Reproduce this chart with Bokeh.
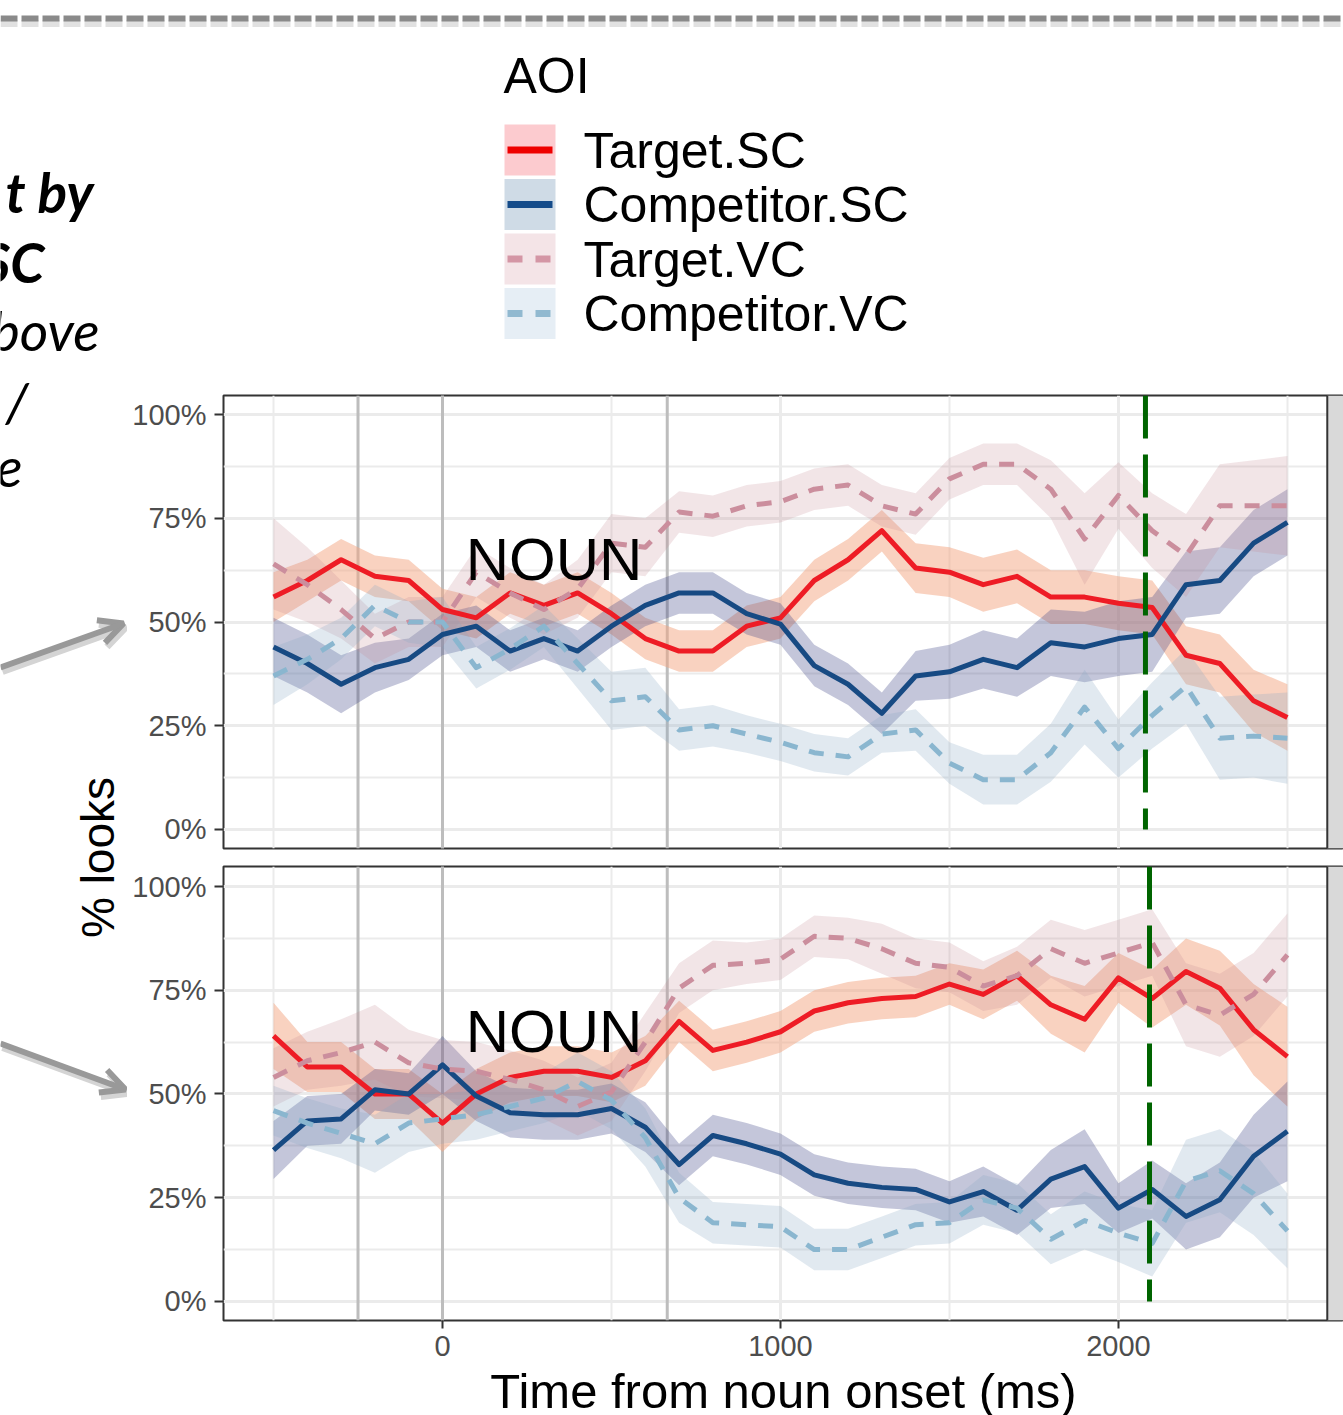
import math
from bokeh.plotting import figure
from bokeh.models import (Range1d, FixedTicker, NumeralTickFormatter, Span, BoxAnnotation,
                          Arrow, OpenHead, Grid, GlobalInlineStyleSheet)
from bokeh.layouts import column, row
from bokeh.embed import file_html
from bokeh.resources import INLINE
from bokeh.core.properties import value

# ---------------- data ----------------
time_ms = [-500, -400, -300, -200, -100, 0, 100, 200, 300, 400, 500, 600, 700, 800, 900, 1000,
           1100, 1200, 1300, 1400, 1500, 1600, 1700, 1800, 1900, 2000, 2100, 2200, 2300, 2400, 2500]

aoi_labels = ["Target.SC", "Competitor.SC", "Target.VC", "Competitor.VC"]

# top panel: mean proportion of looks
top_target_sc = [0.56, 0.60, 0.65, 0.61, 0.60, 0.53, 0.51, 0.57, 0.54, 0.57, 0.52, 0.46, 0.43, 0.43, 0.49, 0.51,
                 0.60, 0.65, 0.72, 0.63, 0.62, 0.59, 0.61, 0.56, 0.56, 0.545, 0.535, 0.42, 0.40, 0.31, 0.27]
top_comp_sc = [0.44, 0.40, 0.35, 0.39, 0.41, 0.47, 0.49, 0.43, 0.46, 0.43, 0.49, 0.54, 0.57, 0.57, 0.52, 0.495,
               0.395, 0.35, 0.28, 0.37, 0.38, 0.41, 0.39, 0.45, 0.44, 0.46, 0.47, 0.59, 0.60, 0.69, 0.74]
top_target_vc = [0.64, 0.59, 0.53, 0.46, 0.50, 0.50, 0.62, 0.57, 0.53, 0.58, 0.69, 0.68, 0.765, 0.755, 0.78, 0.79,
                 0.82, 0.83, 0.78, 0.76, 0.845, 0.88, 0.88, 0.82, 0.70, 0.805, 0.72, 0.66, 0.78, 0.78, 0.78]
top_comp_vc = [0.37, 0.41, 0.46, 0.54, 0.50, 0.50, 0.39, 0.435, 0.49, 0.40, 0.31, 0.32, 0.24, 0.25, 0.23, 0.21,
               0.185, 0.175, 0.23, 0.24, 0.16, 0.12, 0.12, 0.185, 0.295, 0.195, 0.275, 0.345, 0.22, 0.225, 0.22]

# top panel: ribbon half-widths
top_target_sc_ci = [0.06, 0.05, 0.05, 0.05, 0.05, 0.05, 0.05, 0.05, 0.05, 0.05, 0.05, 0.05, 0.05, 0.05, 0.05, 0.05,
                    0.05, 0.05, 0.05, 0.06, 0.06, 0.065, 0.065, 0.065, 0.065, 0.065, 0.065, 0.07, 0.07, 0.075, 0.08]
top_comp_sc_ci = [0.07, 0.07, 0.07, 0.06, 0.05, 0.05, 0.05, 0.05, 0.05, 0.05, 0.05, 0.05, 0.05, 0.05, 0.05, 0.05,
                  0.05, 0.05, 0.05, 0.06, 0.065, 0.07, 0.07, 0.08, 0.085, 0.09, 0.09, 0.08, 0.08, 0.08, 0.08]
top_target_vc_ci = [0.11, 0.09, 0.07, 0.06, 0.06, 0.06, 0.06, 0.06, 0.06, 0.07, 0.07, 0.07, 0.05, 0.05, 0.05, 0.05,
                    0.05, 0.05, 0.05, 0.05, 0.05, 0.05, 0.05, 0.07, 0.11, 0.08, 0.09, 0.10, 0.10, 0.11, 0.12]
top_comp_vc_ci = [0.07, 0.06, 0.05, 0.05, 0.05, 0.06, 0.05, 0.05, 0.05, 0.06, 0.07, 0.07, 0.05, 0.05, 0.045, 0.045,
                  0.045, 0.045, 0.045, 0.05, 0.05, 0.06, 0.06, 0.07, 0.09, 0.07, 0.08, 0.09, 0.10, 0.10, 0.11]

# bottom panel: mean proportion of looks
bot_target_sc = [0.64, 0.565, 0.565, 0.50, 0.50, 0.43, 0.50, 0.54, 0.555, 0.555, 0.54, 0.58, 0.675, 0.605, 0.625, 0.65,
                 0.70, 0.72, 0.73, 0.735, 0.765, 0.74, 0.785, 0.715, 0.68, 0.78, 0.73, 0.795, 0.755, 0.655, 0.59]
bot_comp_sc = [0.365, 0.435, 0.44, 0.51, 0.50, 0.57, 0.495, 0.455, 0.45, 0.45, 0.465, 0.42, 0.33, 0.40, 0.38, 0.355,
               0.305, 0.285, 0.275, 0.27, 0.24, 0.265, 0.22, 0.295, 0.325, 0.225, 0.27, 0.205, 0.245, 0.35, 0.41]
bot_target_vc = [0.54, 0.58, 0.60, 0.625, 0.575, 0.56, 0.555, 0.535, 0.51, 0.47, 0.505, 0.625, 0.755, 0.81, 0.815, 0.825,
                 0.88, 0.875, 0.85, 0.815, 0.805, 0.76, 0.785, 0.85, 0.815, 0.84, 0.865, 0.715, 0.69, 0.74, 0.835]
bot_comp_vc = [0.46, 0.43, 0.405, 0.38, 0.43, 0.44, 0.45, 0.47, 0.49, 0.53, 0.485, 0.395, 0.25, 0.19, 0.185, 0.18,
               0.125, 0.125, 0.155, 0.185, 0.19, 0.245, 0.225, 0.15, 0.195, 0.165, 0.14, 0.29, 0.315, 0.26, 0.17]

# bottom panel: ribbon half-widths
bot_target_sc_ci = [0.08, 0.06, 0.06, 0.06, 0.06, 0.07, 0.06, 0.06, 0.06, 0.06, 0.06, 0.06, 0.05, 0.05, 0.05, 0.05,
                    0.05, 0.05, 0.05, 0.05, 0.05, 0.06, 0.06, 0.07, 0.08, 0.06, 0.07, 0.08, 0.09, 0.11, 0.12]
bot_comp_sc_ci = [0.07, 0.06, 0.06, 0.05, 0.05, 0.07, 0.06, 0.06, 0.06, 0.06, 0.06, 0.06, 0.05, 0.05, 0.05, 0.05,
                  0.05, 0.05, 0.05, 0.05, 0.05, 0.06, 0.06, 0.07, 0.09, 0.06, 0.07, 0.08, 0.09, 0.10, 0.12]
bot_target_vc_ci = [0.07, 0.07, 0.08, 0.09, 0.08, 0.07, 0.07, 0.07, 0.07, 0.07, 0.07, 0.07, 0.06, 0.06, 0.05, 0.05,
                    0.05, 0.05, 0.06, 0.06, 0.06, 0.06, 0.07, 0.07, 0.08, 0.08, 0.08, 0.10, 0.10, 0.10, 0.10]
bot_comp_vc_ci = [0.06, 0.06, 0.06, 0.07, 0.07, 0.06, 0.06, 0.06, 0.06, 0.07, 0.07, 0.07, 0.06, 0.05, 0.05, 0.05,
                  0.05, 0.05, 0.05, 0.05, 0.05, 0.06, 0.06, 0.06, 0.07, 0.07, 0.08, 0.10, 0.10, 0.10, 0.09]

# reference lines (ms)
region_marks = [-250, 0, 665]
decision_time_top = 2080
decision_time_bot = 2092
noun_label_x = 330
noun_label_y = 0.65

x_ticks = [0, 1000, 2000]
x_minor = [-500, 500, 1500, 2500]
y_ticks = [0, 0.25, 0.5, 0.75, 1.0]
y_minor = [0.125, 0.375, 0.625, 0.875]

# ---------------- styles ----------------
line_colors = ["#EE1C25", "#174A83", "#CB8E9D", "#8AB6CF"]
line_dashes = ["solid", "solid", "15 12", "15 12"]
band_colors = ["#F4A582", "#3A4184", "#C38793", "#87A7C3"]
band_alphas = [0.50, 0.30, 0.22, 0.25]
legend_fills = ["#FCCBCF", "#CFDBE6", "#F4E4E7", "#E6EEF5"]
legend_lines = ["#EE0000", "#154C8A", "#D496A5", "#91B9D0"]
FONT = "Liberation Sans"

X0, X1 = -648, 2666
STRIP_X = 2618
FRAME_W = 1120
LEFT_W = 127


def make_panel(means, cis, decision_x, frame_h, y_lo, y_hi, b_top, b_bottom, with_xaxis):
    p = figure(frame_width=FRAME_W, frame_height=frame_h,
               x_range=Range1d(X0, X1), y_range=Range1d(y_lo, y_hi),
               min_border_left=1343 - LEFT_W - FRAME_W, min_border_right=0,
               min_border_top=b_top, min_border_bottom=b_bottom,
               x_axis_location="below" if with_xaxis else None, y_axis_location="left",
               toolbar_location=None, output_backend="svg",
               background_fill_color="white", border_fill_color="white")
    p.outline_line_color = "#333333"
    p.outline_line_width = 2
    p.center = [r for r in p.center if not isinstance(r, Grid)]
    p.add_layout(Grid(dimension=0, ticker=FixedTicker(ticks=x_ticks, minor_ticks=x_minor),
                      grid_line_color="#EBEBEB", grid_line_width=3,
                      minor_grid_line_color="#EBEBEB", minor_grid_line_width=2), "center")
    p.add_layout(Grid(dimension=1, ticker=FixedTicker(ticks=y_ticks, minor_ticks=y_minor),
                      grid_line_color="#EBEBEB", grid_line_width=3,
                      minor_grid_line_color="#EBEBEB", minor_grid_line_width=2), "center")
    for v in region_marks:
        p.add_layout(Span(location=v, dimension="height", line_color="#BDBDBD",
                          line_width=3, level="underlay"))

    ya = p.yaxis[0]
    ya.ticker = FixedTicker(ticks=y_ticks)
    ya.formatter = NumeralTickFormatter(format="0%")
    ya.major_label_text_font = FONT
    ya.major_label_text_font_size = "29px"
    ya.major_label_text_color = "#4D4D4D"
    ya.major_tick_in = 0
    ya.major_tick_out = 9
    ya.major_tick_line_color = "#333333"
    ya.major_tick_line_width = 2
    ya.minor_tick_line_color = None
    ya.axis_line_color = None
    ya.major_label_standoff = 8

    if with_xaxis:
        xa = p.xaxis[0]
        xa.ticker = FixedTicker(ticks=x_ticks)
        xa.major_label_text_font = FONT
        xa.major_label_text_font_size = "29px"
        xa.major_label_text_color = "#4D4D4D"
        xa.major_tick_in = 0
        xa.major_tick_out = 8
        xa.major_tick_line_color = "#333333"
        xa.major_tick_line_width = 2
        xa.minor_tick_line_color = None
        xa.axis_line_color = None
        xa.major_label_standoff = 7
        xa.axis_label = "Time from noun onset (ms)"
        xa.axis_label_text_font = FONT
        xa.axis_label_text_font_size = "49px"
        xa.axis_label_text_font_style = "normal"
        xa.axis_label_text_color = "black"
        xa.axis_label_standoff = 5

    for m, c, col, a in zip(means, cis, band_colors, band_alphas):
        lo = [mv - cv for mv, cv in zip(m, c)]
        hi = [mv + cv for mv, cv in zip(m, c)]
        p.varea(x=time_ms, y1=lo, y2=hi, fill_color=col, fill_alpha=a)
    for m, col, dash in zip(means, line_colors, line_dashes):
        p.line(time_ms, m, line_color=col, line_width=5, line_dash=dash, line_join="round")

    p.text(x=[noun_label_x], y=[noun_label_y], text=["NOUN"], text_font=value(FONT),
           text_font_size="60px", text_align="center", text_baseline="alphabetic", text_color="black")

    p.segment(x0=[decision_x], y0=[y_hi], x1=[decision_x], y1=[0.0], line_color="#006400",
              line_width=5, line_dash="43 16")

    p.add_layout(BoxAnnotation(left=STRIP_X, fill_color="#D9D9D9", fill_alpha=1.0,
                               line_alpha=0, level="overlay"))
    p.add_layout(Span(location=STRIP_X, dimension="height", line_color="#333333",
                      line_width=2, level="overlay"))
    return p


top = make_panel([top_target_sc, top_comp_sc, top_target_vc, top_comp_vc],
                 [top_target_sc_ci, top_comp_sc_ci, top_target_vc_ci, top_comp_vc_ci],
                 decision_time_top, 453, -0.0458, 1.0458, 25, 9, False)
bottom = make_panel([bot_target_sc, bot_comp_sc, bot_target_vc, bot_comp_vc],
                    [bot_target_sc_ci, bot_comp_sc_ci, bot_target_vc_ci, bot_comp_vc_ci],
                    decision_time_bot, 454, -0.0458, 1.0482, 9, 95, True)

# ---------------- header (legend, slide decorations) ----------------
HDR_H = 370
hdr = figure(width=1343, height=HDR_H, x_range=Range1d(0, 1343), y_range=Range1d(HDR_H, 0),
             min_border=0, toolbar_location=None, output_backend="svg",
             x_axis_location=None, y_axis_location=None, outline_line_color=None)
hdr.grid.visible = False

hdr.add_layout(Span(location=23, dimension="width", line_color="#DADADA", line_width=7,
                    line_dash="17 4", line_alpha=0.8))
hdr.add_layout(Span(location=18, dimension="width", line_color="#8A8A8A", line_width=6,
                    line_dash="17 4"))

hdr.text(x=[503], y=[75], text=["AOI"], text_font=value(FONT), text_font_size="50px",
         text_baseline="alphabetic", text_color="black")
row_tops = [124, 178.5, 233, 287.5]
KEY = 51
hdr.quad(left=[504] * 4, right=[504 + KEY] * 4, top=row_tops, bottom=[t + KEY for t in row_tops],
         fill_color=legend_fills, line_color=None)
for t, lc, dash in zip(row_tops, legend_lines, line_dashes):
    hdr.line([507, 552], [t + KEY / 2, t + KEY / 2], line_color=lc, line_width=7,
             line_dash="15 13" if dash != "solid" else "solid")
hdr.text(x=[583] * 4, y=[t + 26 for t in row_tops], text=aoi_labels, text_font=value(FONT),
         text_font_size="50px", text_baseline="alphabetic", text_color="black")

hdr.text(x=[93, 44], y=[191, 261], text=["t by", "SC"], text_font=value("Lato"),
         text_font_size="55px", text_font_style="bold italic", text_align="right",
         text_baseline="alphabetic", text_color="black")
hdr.text(x=[99], y=[329], text=["bove"], text_font=value("Lato"), text_font_size="55px",
         text_font_style="italic", text_align="right", text_baseline="alphabetic", text_color="black")

# ---------------- left strip (slide text, arrows, y title) ----------------
left = figure(width=LEFT_W, height=1415 - HDR_H, x_range=Range1d(0, LEFT_W),
              y_range=Range1d(1415, HDR_H), min_border=0, toolbar_location=None,
              output_backend="svg", x_axis_location=None, y_axis_location=None,
              outline_line_color=None)
left.grid.visible = False
left.text(x=[28, 22], y=[400, 467], text=["/", "e"], text_font=value("Lato"), text_font_size="55px",
          text_font_style="italic", text_align="right", text_baseline="alphabetic", text_color="black")
left.text(x=[97], y=[857], text=["% looks"], angle=math.pi / 2, text_font=value(FONT),
          text_font_size="46px", text_align="center", text_baseline="alphabetic", text_color="black")
for (xs, ys, xe, ye) in [(0, 667, 123, 623), (0, 1043, 125, 1089)]:
    left.add_layout(Arrow(x_start=xs + 2, y_start=ys + 4, x_end=xe + 2, y_end=ye + 4,
                          line_color="#D4D4D4", line_width=7,
                          end=OpenHead(size=24, line_color="#D4D4D4", line_width=7)))
    left.add_layout(Arrow(x_start=xs, y_start=ys, x_end=xe, y_end=ye,
                          line_color="#999999", line_width=6,
                          end=OpenHead(size=24, line_color="#999999", line_width=6)))

layout = column(hdr, row(left, column(top, bottom)))
layout.stylesheets = [GlobalInlineStyleSheet(css="html, body { margin: 0 !important; padding: 0; overflow: hidden; }")]

open("out.html", "w").write(file_html(layout, INLINE))
